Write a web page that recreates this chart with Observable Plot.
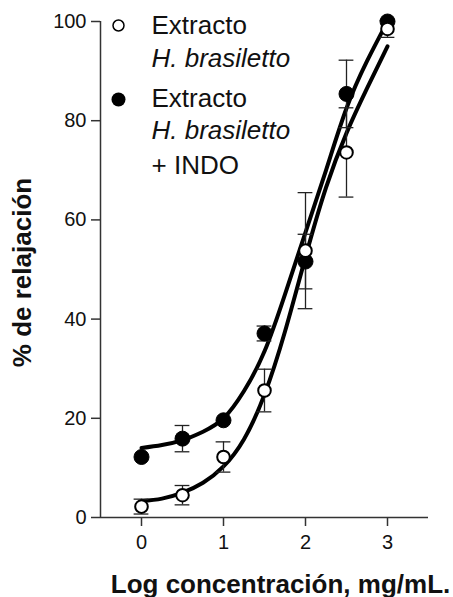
<!DOCTYPE html>
<html>
<head>
<meta charset="utf-8">
<script src="https://cdn.jsdelivr.net/npm/d3@7"></script>
<script src="https://cdn.jsdelivr.net/npm/@observablehq/plot@0.6"></script>
<style>
  html, body { margin: 0; padding: 0; background: #fff; }
</style>
</head>
<body>
<div id="chart"></div>
<script>
// ---- data ----
const logConc = [0, 0.5, 1, 1.5, 2, 2.5, 3];

const extractoMean = [2.2, 4.5, 12.2, 25.6, 53.8, 73.6, 98.5];
const extractoErr  = [1.5, 1.95, 3.05, 4.3, 11.7, 9.0, 1.7];

const indoMean = [12.2, 15.9, 19.6, 37.1, 51.6, 85.4, 100];
const indoErr  = [0, 2.65, 0, 1.5, 5.5, 6.8, 0];

// fitted curves
const fitX        = [0, 0.25, 0.5, 0.75, 1.0, 1.25, 1.5, 1.75, 2.0, 2.25, 2.5, 2.75, 3.0];
const extractoFit = [3.3, 3.8, 5.0, 7.0, 10.3, 15.8, 24.8, 37.5, 52.5, 66.5, 77.5, 86.5, 95];
const indoFit     = [14.0, 14.6, 15.6, 17.3, 20.0, 25.5, 33.5, 45.0, 57.5, 70.0, 82.5, 92.0, 100];

const xTicks = [0, 1, 2, 3];
const yTicks = [0, 20, 40, 60, 80, 100];

const legendLines = ["Extracto", "H. brasiletto", "Extracto", "H. brasiletto", "+ INDO"];
const xLabel = "Log concentración, mg/mL.";
const yLabel = "% de relajación";

// ---- tables ----
const extracto = logConc.map((x, i) => ({x, y: extractoMean[i], e: extractoErr[i]}));
const indo = logConc.map((x, i) => ({x, y: indoMean[i], e: indoErr[i]}));
const fitE = fitX.map((x, i) => ({x, y: extractoFit[i]}));
const fitI = fitX.map((x, i) => ({x, y: indoFit[i]}));
const errs = [...extracto, ...indo].filter(d => d.e > 0);
const caps = errs.flatMap(d => [{x: d.x, y: d.y - d.e}, {x: d.x, y: d.y + d.e}]);
const capHalf = 0.09;

const font = "'Liberation Sans', Arial, sans-serif";
const ink = "#111";

const legendBaselines = [12, 45, 85, 117, 152];
const legendStyles = ["normal", "italic", "normal", "italic", "normal"];

const chart = Plot.plot({
  width: 453,
  height: 597,
  marginLeft: 100,
  marginRight: 25,
  marginTop: 21,
  marginBottom: 80,
  x: {domain: [-0.5, 3.5]},
  y: {domain: [0, 100]},
  style: {fontFamily: font, background: "#fff", color: ink, overflow: "visible"},
  marks: [
    Plot.axisY({ticks: yTicks, tickFormat: d => String(d), tickSize: 9, tickPadding: 5, fontSize: 20, label: null, stroke: "#333", strokeWidth: 1.5, fill: ink}),
    Plot.axisX({ticks: xTicks, tickFormat: d => String(d), tickSize: 9, tickPadding: 8, fontSize: 20, label: null, stroke: "#333", strokeWidth: 1.5, fill: ink}),
    Plot.ruleX([-0.5], {stroke: "#333", strokeWidth: 1.5}),
    Plot.ruleY([0], {stroke: "#333", strokeWidth: 1.5}),
    // fitted curves
    Plot.line(fitE, {x: "x", y: "y", curve: "natural", stroke: "#000", strokeWidth: 4}),
    Plot.line(fitI, {x: "x", y: "y", curve: "natural", stroke: "#000", strokeWidth: 4}),
    // error bars
    Plot.ruleX(errs, {x: "x", y1: d => d.y - d.e, y2: d => d.y + d.e, stroke: "#222", strokeWidth: 1.3}),
    Plot.ruleY(caps, {y: "y", x1: d => d.x - capHalf, x2: d => d.x + capHalf, stroke: "#222", strokeWidth: 1.3}),
    // points
    Plot.dot(indo, {x: "x", y: "y", r: 7.5, fill: "#000", stroke: "#000", strokeWidth: 1}),
    Plot.dot(extracto, {x: "x", y: "y", r: 6.3, fill: "#fff", stroke: "#000", strokeWidth: 2}),
    // legend
    Plot.dot([legendLines[0]], {frameAnchor: "top-left", dx: 18, dy: 4, r: 5.5, fill: "#fff", stroke: "#000", strokeWidth: 1.5}),
    Plot.dot([legendLines[2]], {frameAnchor: "top-left", dx: 18, dy: 78, r: 7, fill: "#000"}),
    ...legendLines.map((t, i) => Plot.text([t], {
      frameAnchor: "top-left", textAnchor: "start", lineAnchor: "bottom",
      dx: 51, dy: legendBaselines[i], fontSize: 26, fontStyle: legendStyles[i], fill: ink
    })),
    // axis titles
    Plot.text([yLabel], {frameAnchor: "left", textAnchor: "middle", lineAnchor: "middle", rotate: -90, dx: -78, dy: 3, fontSize: 26, fontWeight: "bold", fill: ink}),
    Plot.text([xLabel], {frameAnchor: "bottom", textAnchor: "middle", lineAnchor: "bottom", dx: 16, dy: 75, fontSize: 26, fontWeight: "bold", fill: ink})
  ]
});
document.getElementById("chart").appendChild(chart);
</script>
</body>
</html>
